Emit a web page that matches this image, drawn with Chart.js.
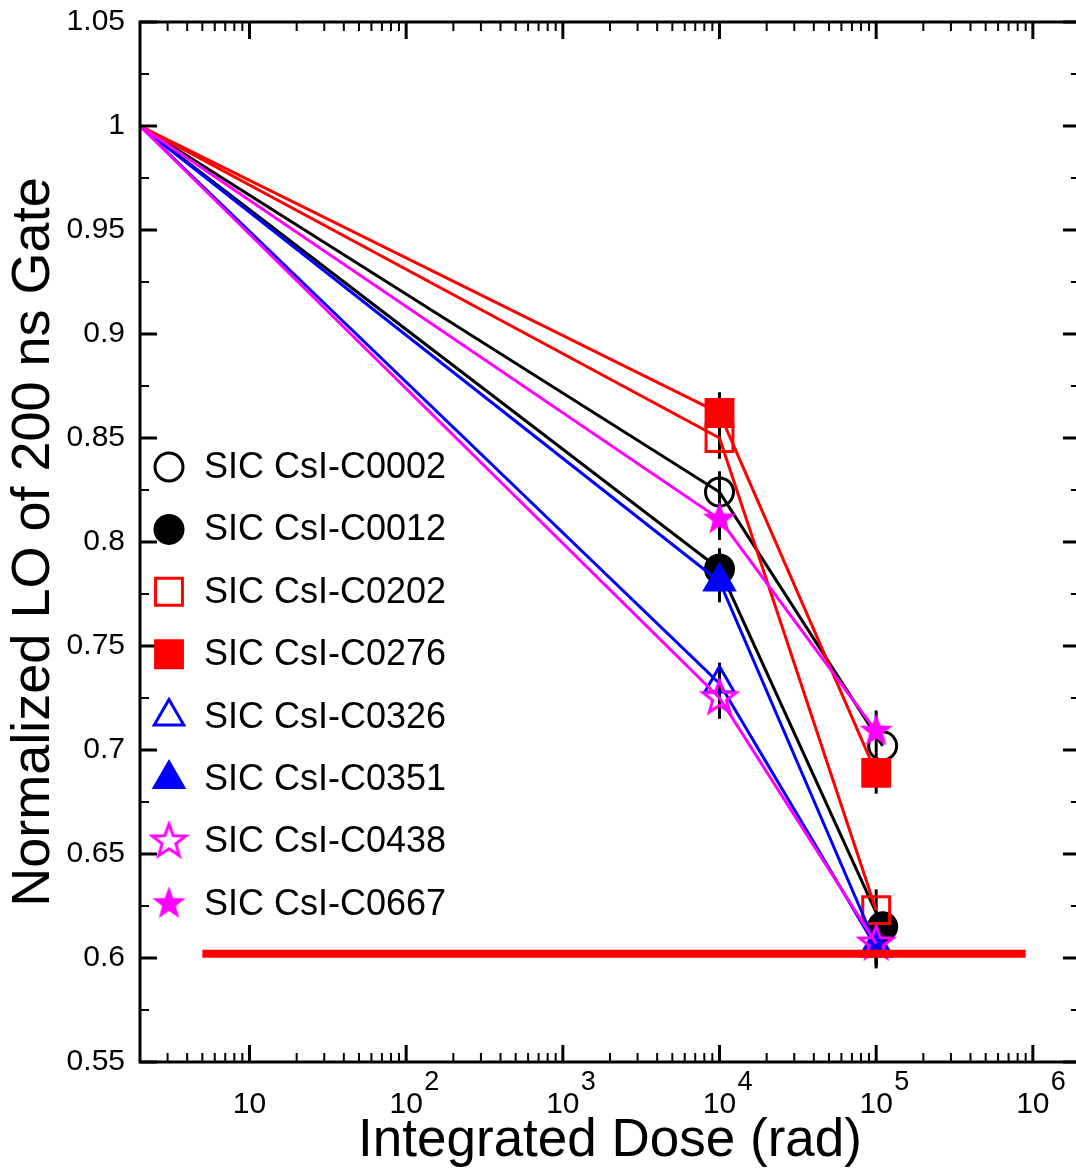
<!DOCTYPE html>
<html>
<head>
<meta charset="utf-8">
<title>Normalized LO vs integrated dose</title>
<script src="https://cdn.jsdelivr.net/npm/chart.js@4.4.1/dist/chart.umd.min.js"></script>
<style>
  html, body { margin: 0; padding: 0; background: #fff; overflow: hidden; }
  /* a touch wider than the window: the right frame edge sits just off-screen */
  #wrap { position: relative; width: 1084px; height: 1174px; }
  #chart { display: block; }
</style>
</head>
<body>
<div id="wrap"><canvas id="chart" width="1084" height="1174"></canvas></div>
<script>
// dose points (rad); the two circle samples are drawn a bit right of 10^5
const doses = [2, 1e4, 1e5];
const dosesShifted = [2, 1e4, 1.1e5];

// normalized light output, 200 ns gate
const lo_C0002 = [1, 0.824, 0.702];
const lo_C0012 = [1, 0.787, 0.615];
const lo_C0202 = [1, 0.850, 0.623];
const lo_C0276 = [1, 0.862, 0.689];
const lo_C0326 = [1, 0.732, 0.605];
const lo_C0351 = [1, 0.781, 0.606];
const lo_C0438 = [1, 0.725, 0.607];
const lo_C0667 = [1, 0.811, 0.709];

// vertical error bars (+/-)
const errBars = [0, 0.01, 0.01];
const errBarsNoLast = [0, 0.01, 0];

// red requirement line
const limitX = [5, 9e5];
const limitY = [0.602, 0.602];

// axis ticks
const yTicks = [0.55, 0.6, 0.65, 0.7, 0.75, 0.8, 0.85, 0.9, 0.95, 1, 1.05];
const yTickLabels = ['0.55', '0.6', '0.65', '0.7', '0.75', '0.8', '0.85', '0.9', '0.95', '1', '1.05'];
const xDecades = [1, 2, 3, 4, 5, 6];

const FONT = '"Liberation Sans", Arial, Helvetica, sans-serif';
Chart.defaults.font.family = FONT;
Chart.defaults.color = '#000';

/**
 * Five-pointed star as a point style image
 */
function makeStar(filled) {
    const R = 17.5, r = 7.2, pad = 3;
    const size = Math.ceil(2 * R + 2 * pad);
    const c = document.createElement('canvas');
    c.width = size;
    c.height = size;
    const g = c.getContext('2d');
    g.beginPath();
    for (let i = 0; i < 10; i++) {
        const rr = i % 2 ? r : R;
        const a = -Math.PI / 2 + i * Math.PI / 5;
        g.lineTo(size / 2 + rr * Math.cos(a), size / 2 + rr * Math.sin(a));
    }
    g.closePath();
    if (filled) {
        g.fillStyle = '#ff00ff';
        g.fill();
    } else {
        g.lineWidth = 3;
        g.strokeStyle = '#ff00ff';
        g.stroke();
    }
    return c;
}

const starOpen = makeStar(false);
const starFilled = makeStar(true);

const series = [
    { label: 'SIC CsI-C0002', x: dosesShifted, y: lo_C0002, err: errBarsNoLast, color: '#000000', style: 'circle', radius: 14, filled: false },
    { label: 'SIC CsI-C0012', x: dosesShifted, y: lo_C0012, err: errBarsNoLast, color: '#000000', style: 'circle', radius: 14, filled: true },
    { label: 'SIC CsI-C0202', x: doses, y: lo_C0202, err: errBars, color: '#ff0000', style: 'rect', radius: 19, filled: false },
    { label: 'SIC CsI-C0276', x: doses, y: lo_C0276, err: errBars, color: '#ff0000', style: 'rect', radius: 19, filled: true },
    { label: 'SIC CsI-C0326', x: doses, y: lo_C0326, err: errBars, color: '#0000ff', style: 'triangle', radius: 17, filled: false },
    { label: 'SIC CsI-C0351', x: doses, y: lo_C0351, err: errBars, color: '#0000ff', style: 'triangle', radius: 17, filled: true },
    { label: 'SIC CsI-C0438', x: doses, y: lo_C0438, err: errBars, color: '#ff00ff', style: starOpen, radius: 17, filled: false },
    { label: 'SIC CsI-C0667', x: doses, y: lo_C0667, err: errBars, color: '#ff00ff', style: starFilled, radius: 17, filled: true }
];

const datasets = series.map((s, i) => ({
    label: s.label,
    data: s.x.map((xv, j) => ({ x: xv, y: s.y[j] })),
    borderColor: s.color,
    borderWidth: 3,
    backgroundColor: s.color,
    pointStyle: s.style,
    pointRadius: s.x.map((xv, j) => (j === 0 ? 0 : s.radius)),
    pointBorderWidth: 3,
    pointBorderColor: s.color,
    pointBackgroundColor: s.filled ? s.color : 'rgba(0,0,0,0)',
    tension: 0,
    order: -i   // later samples drawn on top
}));

datasets.push({
    label: 'limit',
    data: limitX.map((xv, j) => ({ x: xv, y: limitY[j] })),
    borderColor: '#ff0000',
    borderWidth: 8,
    pointRadius: 0,
    order: -100
});

/**
 * Error bars, drawn under the lines and markers
 */
const errorBarPlugin = {
    id: 'errorBars',
    beforeDatasetsDraw(chart) {
        const { ctx, scales: { x, y } } = chart;
        ctx.save();
        ctx.strokeStyle = '#000';
        ctx.lineWidth = 3;
        series.forEach(s => {
            s.x.forEach((xv, j) => {
                const e = s.err[j];
                if (!e) return;
                const px = x.getPixelForValue(xv);
                ctx.beginPath();
                ctx.moveTo(px, y.getPixelForValue(s.y[j] + e));
                ctx.lineTo(px, y.getPixelForValue(s.y[j] - e));
                ctx.stroke();
            });
        });
        ctx.restore();
    }
};

/**
 * Box frame, inward ticks on all four sides and the 10^n labels
 */
const framePlugin = {
    id: 'frame',
    afterDraw(chart) {
        const { ctx, chartArea: a, scales: { x, y } } = chart;
        const seg = (x1, y1, x2, y2) => {
            ctx.beginPath();
            ctx.moveTo(x1, y1);
            ctx.lineTo(x2, y2);
            ctx.stroke();
        };
        ctx.save();
        ctx.strokeStyle = '#000';

        // log ticks on bottom and top
        for (let d = 0; d <= 6; d++) {
            for (let m = 1; m <= 9; m++) {
                const v = m * Math.pow(10, d);
                if (v < x.min || v > x.max) continue;
                const px = x.getPixelForValue(v);
                const len = m === 1 ? 17 : 9;
                ctx.lineWidth = m === 1 ? 3 : 2;
                seg(px, a.bottom, px, a.bottom - len);
                seg(px, a.top, px, a.top + len);
            }
        }

        // y ticks left and right, minor ones halfway
        for (let k = 0; k < yTicks.length; k++) {
            const py = y.getPixelForValue(yTicks[k]);
            ctx.lineWidth = 3;
            seg(a.left, py, a.left + 17, py);
            seg(a.right, py, a.right - 17, py);
            if (k < yTicks.length - 1) {
                const pm = y.getPixelForValue((yTicks[k] + yTicks[k + 1]) / 2);
                ctx.lineWidth = 2;
                seg(a.left, pm, a.left + 9, pm);
                seg(a.right, pm, a.right - 9, pm);
            }
        }

        ctx.lineWidth = 3;
        ctx.strokeRect(a.left, a.top, a.right - a.left, a.bottom - a.top);

        // decade labels with raised exponent
        ctx.fillStyle = '#000';
        ctx.textBaseline = 'alphabetic';
        xDecades.forEach(d => {
            const px = x.getPixelForValue(Math.pow(10, d));
            ctx.font = '30px ' + FONT;
            ctx.textAlign = 'center';
            ctx.fillText('10', px, 1113);
            if (d > 1) {
                ctx.font = '27px ' + FONT;
                ctx.textAlign = 'left';
                ctx.fillText(String(d), px + 18, 1090);
            }
        });
        ctx.restore();
    }
};

/**
 * Legend inside the plot, left side
 */
const legendPlugin = {
    id: 'insideLegend',
    afterDraw(chart) {
        const { ctx } = chart;
        ctx.save();
        series.forEach((s, i) => {
            const cy = 467 + i * 62.4;
            ctx.strokeStyle = s.color;
            ctx.fillStyle = s.filled ? s.color : 'rgba(0,0,0,0)';
            ctx.lineWidth = 3;
            Chart.helpers.drawPoint(ctx, { pointStyle: s.style, radius: s.radius, rotation: 0, borderWidth: 3 }, 169, cy);
            ctx.fillStyle = '#000';
            ctx.font = '36px ' + FONT;
            ctx.textAlign = 'left';
            ctx.textBaseline = 'middle';
            ctx.fillText(s.label, 204, cy + 1);
        });
        ctx.restore();
    }
};

// keep the plot box exactly where the reference has it
function noScalePadding(scale) {
    scale.paddingTop = 0;
    scale.paddingBottom = 0;
    scale.paddingLeft = 0;
    scale.paddingRight = 0;
}

new Chart(document.getElementById('chart'), {
    type: 'line',
    data: { datasets: datasets },
    options: {
        responsive: false,
        animation: false,
        devicePixelRatio: 1,
        layout: { autoPadding: false, padding: { top: 22, right: 4, left: 0, bottom: 0 } },
        plugins: {
            legend: { display: false },
            tooltip: { enabled: false }
        },
        scales: {
            x: {
                type: 'logarithmic',
                min: 2,
                max: 2e6,
                grid: { display: false, drawTicks: false },
                border: { display: false },
                ticks: { display: false },
                title: {
                    display: true,
                    text: 'Integrated Dose (rad)',
                    font: { size: 53 },
                    padding: { top: 0, bottom: 1 }
                },
                afterFit(scale) {
                    scale.height = 112;
                    noScalePadding(scale);
                }
            },
            y: {
                type: 'linear',
                min: 0.55,
                max: 1.05,
                grid: { display: false, drawTicks: false },
                border: { display: false },
                afterBuildTicks(scale) {
                    scale.ticks = yTicks.map(v => ({ value: v }));
                },
                ticks: {
                    font: { size: 30 },
                    padding: 15,
                    callback: (v, i) => yTickLabels[i]
                },
                title: {
                    display: true,
                    text: 'Normalized LO of 200 ns Gate',
                    font: { size: 54 },
                    padding: { top: 2, bottom: 0 }
                },
                afterFit(scale) {
                    scale.width = 140;
                    noScalePadding(scale);
                }
            }
        }
    },
    plugins: [errorBarPlugin, framePlugin, legendPlugin]
});
</script>
</body>
</html>
